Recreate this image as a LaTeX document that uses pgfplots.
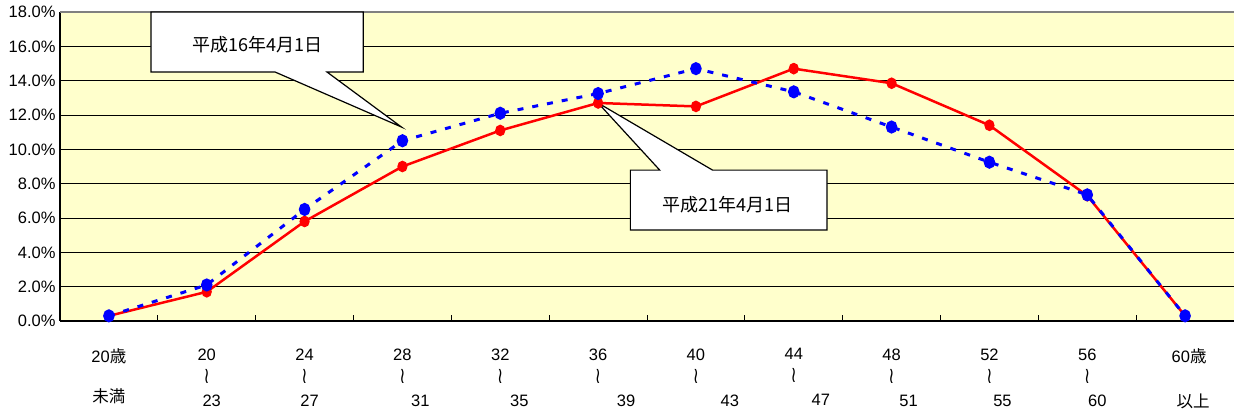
\documentclass[border=0pt]{standalone}
\usepackage{fontspec}
\setmainfont{Liberation Sans}
\newfontfamily\jp{Noto Sans CJK JP}
\newfontfamily\dv{DejaVu Sans}
\usepackage{pgfplots}
\pgfplotsset{compat=1.18}
\definecolor{bg}{RGB}{255,255,204}
\newcommand{\wave}{\scalebox{1.1}[1.5]{\dv\fontsize{15}{15}\selectfont ≀}}

\begin{document}
\begin{tikzpicture}
\begin{axis}[
    at={(0,0)}, anchor=south west,
    scale only axis, width=1174pt, height=309pt,
    xmin=-0.5, xmax=11.5, ymin=0, ymax=18,
    axis background/.style={fill=bg},
    axis lines*=left,
    axis line style={-, line width=1.5pt, black},
    clip=false,
    ytick={0,2,...,18},
    yticklabels={0.0\%,2.0\%,4.0\%,6.0\%,8.0\%,10.0\%,12.0\%,14.0\%,16.0\%,18.0\%},
    ytick style={draw=none},
    yticklabel style={font=\fontsize{16.5}{18}\selectfont, xshift=-1pt},
    ymajorgrids,
    grid style={black, line width=0.9pt},
    xtick={0.5,1.5,...,10.5},
    xticklabels={},
    xtick style={black, line width=1pt},
    major tick length=6pt,
    tick align=inside,
    extra x ticks={0,1,...,11},
    extra x tick style={major tick length=0pt},
    extra x tick labels={
        {20{\jp 歳}\\[17pt]{\jp 未満}},
        {20\\\wave\\\hspace*{10pt}23},
        {24\\\wave\\\hspace*{10pt}27},
        {28\\\wave\\\hspace*{36pt}31},
        {32\\\wave\\\hspace*{38pt}35},
        {36\\\wave\\\hspace*{56pt}39},
        {40\\\wave\\\hspace*{68pt}43},
        {44\\\wave\\\hspace*{54pt}47},
        {48\\\wave\\\hspace*{34pt}51},
        {52\\\wave\\\hspace*{26pt}55},
        {56\\\wave\\\hspace*{20pt}60},
        {\hspace*{8pt}60{\jp 歳}\\[22pt]\hspace*{16pt}{\jp 以上}}
    },
    xticklabel style={align=center, font=\fontsize{16.5}{23}\selectfont, yshift=-24pt},
]

% 平成21年4月1日
\addplot[red, line width=2.5pt, mark=*, mark size=4.5pt, mark options={solid, xscale=0.85}] coordinates {
    (0,0.3) (1,1.7) (2,5.8) (3,9.0) (4,11.1) (5,12.7)
    (6,12.5) (7,14.7) (8,13.85) (9,11.4) (10,7.3) (11,0.3)
};
% 平成16年4月1日
\addplot[blue, line width=3pt, dash pattern=on 6pt off 9pt, mark=*, mark size=5pt, mark options={solid, xscale=0.85}] coordinates {
    (0,0.3) (1,2.1) (2,6.5) (3,10.5) (4,12.1) (5,13.25)
    (6,14.7) (7,13.35) (8,11.3) (9,9.25) (10,7.35) (11,0.3)
};

\draw[gray, line width=1.5pt] (rel axis cs:0,1) -- (rel axis cs:1,1);

\draw[line width=1.2pt, fill=white] (axis cs:0.43,18) -- (axis cs:2.60,18) -- (axis cs:2.60,14.5)
    -- (axis cs:2.23,14.5) -- (axis cs:2.99,11.3) -- (axis cs:1.70,14.5) -- (axis cs:0.43,14.5) -- cycle;
\node[font=\jp\fontsize{18}{20}\selectfont] at (axis cs:1.52,16.1) {平成16年4月1日};

\draw[line width=1.2pt, fill=white] (axis cs:5.33,8.79) -- (axis cs:5.63,8.79) -- (axis cs:5.0,12.7)
    -- (axis cs:6.17,8.79) -- (axis cs:7.34,8.79) -- (axis cs:7.34,5.30) -- (axis cs:5.33,5.30) -- cycle;
\node[font=\jp\fontsize{18}{20}\selectfont] at (axis cs:6.32,6.8) {平成21年4月1日};

\end{axis}
\pgfresetboundingbox
\path (-60pt,-93pt) rectangle (1174pt,321pt);
\end{tikzpicture}
\end{document}
